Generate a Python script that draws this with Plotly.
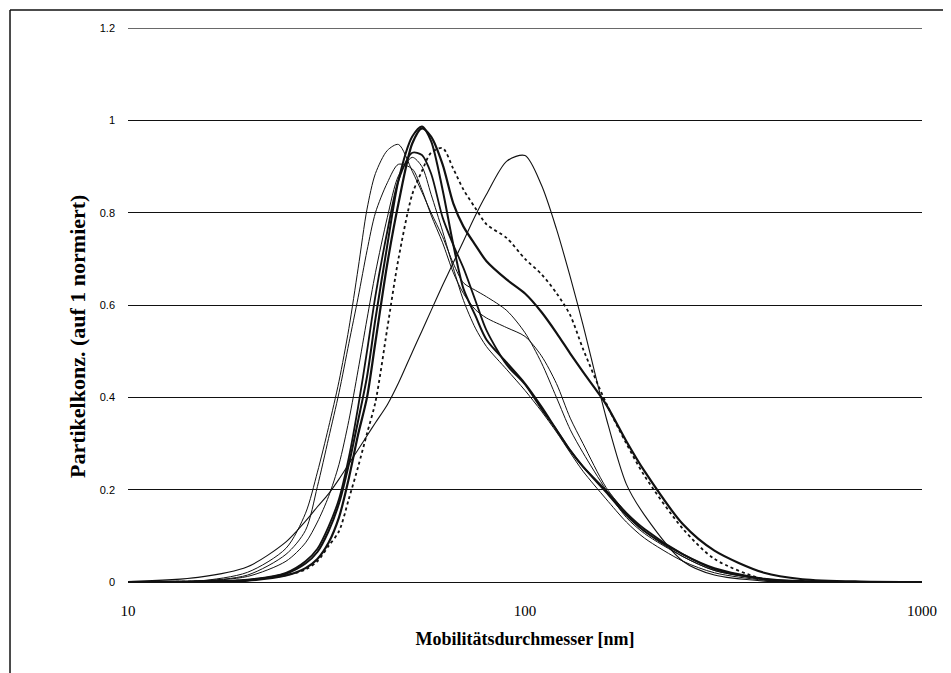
import plotly.graph_objects as go

# Mobility diameter grid [nm]
diameter_nm = [10, 15, 20, 25, 28, 30, 32, 34, 36, 38, 40, 42, 45, 48, 52, 55, 58, 62, 66, 70,
               75, 80, 90, 100, 110, 120, 130, 140, 160, 180, 200, 250, 300, 400, 500, 700, 1000]

series_a = [0, 0.002, 0.021, 0.073, 0.149, 0.238, 0.335, 0.435, 0.549, 0.68, 0.808, 0.885, 0.935, 0.948,
            0.89, 0.845, 0.80, 0.748, 0.69, 0.648, 0.632, 0.618, 0.588, 0.54, 0.475, 0.40, 0.33, 0.28,
            0.2, 0.14, 0.105, 0.055, 0.025, 0.006, 0.001, 0, 0]
series_b = [0, 0.002, 0.015, 0.06, 0.112, 0.207, 0.311, 0.41, 0.517, 0.617, 0.718, 0.80, 0.865, 0.905,
            0.895, 0.85, 0.795, 0.735, 0.67, 0.625, 0.59, 0.572, 0.551, 0.532, 0.49, 0.43, 0.355, 0.30,
            0.205, 0.15, 0.11, 0.055, 0.025, 0.006, 0.001, 0, 0]
series_g = [0, 0.002, 0.012, 0.045, 0.085, 0.13, 0.185, 0.255, 0.35, 0.46, 0.57, 0.67, 0.79, 0.88,
            0.92, 0.90, 0.84, 0.76, 0.68, 0.61, 0.55, 0.51, 0.46, 0.415, 0.37, 0.325, 0.28, 0.24,
            0.18, 0.13, 0.095, 0.045, 0.02, 0.004, 0.001, 0, 0]
series_c1 = [0, 0.001, 0.004, 0.018, 0.04, 0.065, 0.11, 0.17, 0.255, 0.35, 0.445, 0.57, 0.73, 0.87,
             0.965, 0.987, 0.955, 0.85, 0.73, 0.635, 0.577, 0.525, 0.475, 0.43, 0.38, 0.33, 0.285, 0.25,
             0.195, 0.145, 0.11, 0.06, 0.03, 0.007, 0.002, 0, 0]
series_c2 = [0, 0.001, 0.003, 0.014, 0.03, 0.05, 0.085, 0.14, 0.225, 0.32, 0.40, 0.52, 0.69, 0.82,
             0.95, 0.983, 0.965, 0.905, 0.82, 0.77, 0.73, 0.695, 0.655, 0.625, 0.585, 0.54, 0.495, 0.455,
             0.385, 0.305, 0.24, 0.125, 0.068, 0.02, 0.006, 0.001, 0]
series_d = [0, 0.001, 0.005, 0.02, 0.045, 0.072, 0.12, 0.18, 0.27, 0.38, 0.50, 0.62, 0.76, 0.87,
            0.93, 0.925, 0.885, 0.79, 0.73, 0.68, 0.61, 0.545, 0.47, 0.428, 0.375, 0.33, 0.285, 0.25,
            0.198, 0.15, 0.115, 0.06, 0.028, 0.006, 0.001, 0, 0]
series_f = [0, 0.001, 0.004, 0.015, 0.027, 0.045, 0.078, 0.11, 0.18, 0.25, 0.322, 0.39, 0.55, 0.70,
            0.84, 0.89, 0.93, 0.94, 0.895, 0.85, 0.81, 0.775, 0.745, 0.70, 0.667, 0.626, 0.578, 0.505,
            0.388, 0.30, 0.23, 0.115, 0.05, 0.006, 0.001, 0, 0]
series_e = [0.001, 0.01, 0.033, 0.087, 0.132, 0.163, 0.191, 0.223, 0.256, 0.287, 0.317, 0.345, 0.384,
            0.431, 0.498, 0.544, 0.588, 0.643, 0.692, 0.739, 0.794, 0.84, 0.912, 0.924, 0.86, 0.765,
            0.661, 0.557, 0.357, 0.212, 0.145, 0.045, 0.015, 0.002, 0, 0, 0]

y_tickvals = [0, 0.2, 0.4, 0.6, 0.8, 1.0, 1.2]
y_ticktext = ["0", "0.2", "0.4", "0.6", "0.8", "1", "1.2"]
x_tickvals = [10, 100, 1000]
x_ticktext = ["10", "100", "1000"]

curves = [
    ("A", series_a, 1.0, "solid"),
    ("B", series_b, 1.0, "solid"),
    ("G", series_g, 1.0, "solid"),
    ("C1", series_c1, 2.0, "solid"),
    ("C2", series_c2, 2.2, "solid"),
    ("D", series_d, 1.8, "solid"),
    ("F", series_f, 1.8, "dot"),
    ("E", series_e, 1.1, "solid"),
]

fig = go.Figure()
for name, ys, w, dash in curves:
    fig.add_trace(go.Scatter(
        x=diameter_nm, y=ys, mode="lines", name=name,
        line=dict(color="#111111", width=w, dash=dash, shape="spline", smoothing=0.8),
        showlegend=False, hoverinfo="x+y",
    ))

serif = "Liberation Serif, Times New Roman, serif"
sans = "Liberation Sans, Arial, sans-serif"

# the page body adds an 8px margin, so the figure is sized to fill the rest of the window
fig.update_layout(
    width=943, height=665,
    margin=dict(l=120, r=29, t=20, b=91),
    paper_bgcolor="white", plot_bgcolor="white",
    showlegend=False,
    xaxis=dict(
        type="log", range=[1, 3],
        tickvals=x_tickvals, ticktext=x_ticktext,
        showgrid=False, zeroline=False, showline=False, ticks="",
        ticklabelstandoff=18,
        tickfont=dict(family=serif, size=15, color="black"),
        title=dict(text="<b>Mobilitätsdurchmesser [nm]</b>",
                   font=dict(family=serif, size=18, color="black"), standoff=14),
        automargin=False,
    ),
    yaxis=dict(
        range=[0, 1.2003],
        tickvals=y_tickvals, ticktext=y_ticktext,
        showgrid=True, gridcolor="#111111", gridwidth=1,
        zeroline=True, zerolinecolor="#111111", zerolinewidth=1,
        showline=False, ticks="",
        ticklabelstandoff=12,
        tickfont=dict(family=sans, size=11, color="black"),
        automargin=False,
    ),
    annotations=[
        dict(text="<b>Partikelkonz. (auf 1 normiert)</b>", textangle=-90,
             xref="paper", yref="paper", x=-0.0642, y=0.444,
             xanchor="center", yanchor="middle", showarrow=False,
             font=dict(family=serif, size=22, color="black")),
    ],
    shapes=[
        # top gridline (plotly drops the grid line lying on the plot edge)
        dict(type="line", xref="paper", yref="y", x0=0, x1=1,
             y0=y_tickvals[-1], y1=y_tickvals[-1],
             line=dict(color="#111111", width=1), layer="below"),
        # scan frame
        dict(type="line", xref="paper", yref="paper", x0=-0.1486, y0=1.0325, x1=1.05, y1=1.0325,
             line=dict(color="#111111", width=1.5)),
        dict(type="line", xref="paper", yref="paper", x0=-0.1486, y0=1.0325, x1=-0.1486, y1=-0.17,
             line=dict(color="#111111", width=1.5)),
    ],
)

fig.write_html("out.html")
